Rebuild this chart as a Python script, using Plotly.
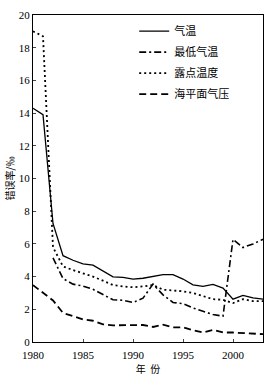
import plotly.graph_objects as go

years = list(range(1980, 2004))
air_temp = [14.3, 13.9, 7.25, 5.28, 5.0, 4.78, 4.7, 4.35, 3.98, 3.95, 3.85, 3.9, 4.0, 4.12, 4.12, 3.85,
            3.5, 3.4, 3.52, 3.3, 2.62, 2.85, 2.7, 2.62]
min_years = list(range(1982, 2004))
min_temp = [5.15, 3.88, 3.54, 3.42, 3.22, 2.88, 2.58, 2.55, 2.42, 2.68, 3.54, 2.88, 2.42, 2.34,
            2.08, 1.88, 1.68, 1.58, 6.28, 5.78, 6.0, 6.28]
dew_point = [19.0, 18.7, 5.8, 4.62, 4.4, 4.2, 4.0, 3.75, 3.48, 3.4, 3.35, 3.4, 3.48, 3.2, 3.15, 3.1,
             3.0, 2.8, 2.62, 2.58, 2.38, 2.62, 2.5, 2.5]
slp = [3.48, 3.0, 2.54, 1.78, 1.58, 1.38, 1.3, 1.08, 1.02, 1.02, 1.04, 1.04, 0.92, 1.06, 0.9, 0.9,
       0.72, 0.58, 0.74, 0.58, 0.58, 0.55, 0.52, 0.48]

names = ["气温", "最低气温", "露点温度", "海平面气压"]
cjk = "Noto Sans CJK SC"
serif = "Liberation Serif"

fig = go.Figure()
fig.add_trace(go.Scatter(x=years, y=air_temp, mode="lines", name=names[0], legendgroup="a",
                         line=dict(color="black", width=1.3)))
fig.add_trace(go.Scatter(x=min_years, y=min_temp, mode="lines", name=names[1], legendgroup="b",
                         line=dict(color="black", width=1.6, dash="7px,3px,2px,3px")))
fig.add_trace(go.Scatter(x=years, y=dew_point, mode="lines", name=names[2], legendgroup="c",
                         line=dict(color="black", width=1.8, dash="2px,3px")))
fig.add_trace(go.Scatter(x=years, y=slp, mode="lines", name=names[3], legendgroup="d",
                         line=dict(color="black", width=1.8, dash="7px,4px")))

fig.update_layout(
    width=273, height=377,
    margin=dict(l=33, r=9, t=10, b=34),
    paper_bgcolor="white", plot_bgcolor="white",
    font=dict(family=serif, size=11, color="black"),
    showlegend=True,
    legend=dict(x=0.44, y=0.995, xanchor="left", yanchor="top", bgcolor="rgba(0,0,0,0)",
                font=dict(family=cjk, size=11, color="black"), tracegroupgap=2,
                itemwidth=30),
    xaxis=dict(range=[1980, 2003], tickvals=[1980, 1985, 1990, 1995, 2000],
               ticks="inside", ticklen=3, showgrid=False, zeroline=False,
               showline=True, linecolor="black", linewidth=1, mirror=True,
               tickfont=dict(family=serif, size=11), ticklabelstandoff=3,
               title=dict(text="年  份", font=dict(family=cjk, size=10), standoff=0)),
    yaxis=dict(range=[0, 20], tickvals=list(range(0, 21, 2)),
               ticks="inside", ticklen=3, showgrid=False, zeroline=False,
               showline=True, linecolor="black", linewidth=1, mirror=True,
               tickfont=dict(family=serif, size=11),
               title=dict(text="错误率/‰", font=dict(family=cjk, size=10), standoff=2)),
)

fig.write_html("out.html")
